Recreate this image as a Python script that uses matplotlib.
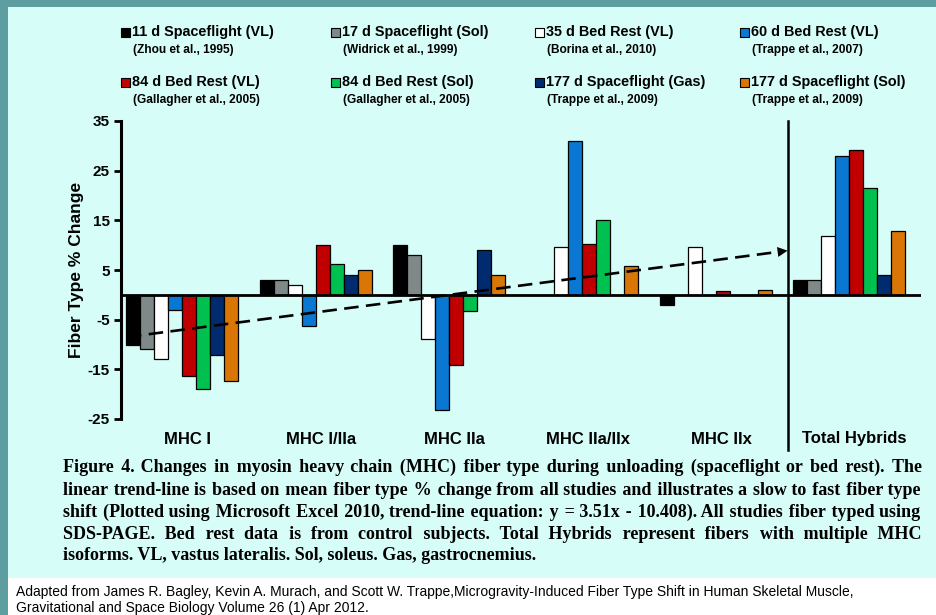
import numpy as np
import matplotlib
matplotlib.use("Agg")
import matplotlib.pyplot as plt
from matplotlib.patches import Rectangle

plt.rcParams["axes.unicode_minus"] = False

categories = ["MHC I", "MHC I/IIa", "MHC IIa", "MHC IIa/IIx", "MHC IIx", "Total Hybrids"]

studies = ["11 d Spaceflight (VL)", "17 d Spaceflight (Sol)", "35 d Bed Rest (VL)", "60 d Bed Rest (VL)",
           "84 d Bed Rest (VL)", "84 d Bed Rest (Sol)", "177 d Spaceflight (Gas)", "177 d Spaceflight (Sol)"]
citations = ["(Zhou et al., 1995)", "(Widrick et al., 1999)", "(Borina et al., 2010)", "(Trappe et al., 2007)",
             "(Gallagher et al., 2005)", "(Gallagher et al., 2005)", "(Trappe et al., 2009)", "(Trappe et al., 2009)"]
colors = ["#000000", "#7f8a88", "#ffffff", "#0a78d2", "#c00000", "#00c04f", "#002b6e", "#d97606"]

# % change per study, one value per category
sf11_vl = [-10, 3, 10, 0, -2, 3]
sf17_sol = [-11, 3, 8, 0, 0, 3]
br35_vl = [-13, 2, -8.8, 9.7, 9.6, 11.8]
br60_vl = [-3, -6.2, -23.2, 31, 0, 28]
br84_vl = [-16.3, 10.1, -14.2, 10.2, 0.7, 29.1]
br84_sol = [-19, 6.3, -3.3, 15, 0, 21.5]
sf177_gas = [-12.2, 4, 9, 0, 0, 4]
sf177_sol = [-17.3, 5, 4, 5.9, 0.9, 12.9]
series = [sf11_vl, sf17_sol, br35_vl, br60_vl, br84_vl, br84_sol, sf177_gas, sf177_sol]

# trend-line equation from the caption: y = 3.51x - 10.408
trend_slope = 3.51
trend_intercept = -10.408

caption_lines = [
    "Figure 4.  Changes in myosin heavy chain (MHC) fiber type during unloading (spaceflight or bed rest). The",
    "linear trend-line is based on mean fiber type % change from all studies and illustrates a slow to fast fiber type",
    "shift (Plotted using Microsoft Excel 2010, trend-line equation: y = 3.51x - 10.408). All studies fiber typed using",
    "SDS-PAGE. Bed rest data is from control subjects. Total Hybrids represent fibers with multiple MHC",
    "isoforms. VL, vastus lateralis. Sol, soleus. Gas, gastrocnemius.",
]
source_lines = [
    "Adapted from James R. Bagley, Kevin A. Murach, and Scott W. Trappe,Microgravity-Induced Fiber Type Shift in Human Skeletal Muscle,",
    "Gravitational and Space Biology Volume 26 (1) Apr 2012.",
]

W, H = 936, 615
fig = plt.figure(figsize=(W / 100, H / 100), dpi=100, facecolor="#5f9ea0")


def fx(px):
    return px / W


def fy(py):
    return 1 - py / H


# panel backgrounds
fig.patches.append(Rectangle((fx(8), fy(578)), fx(W - 8), fy(7) - fy(578),
                             transform=fig.transFigure, facecolor="#d6fdf8", edgecolor="none", zorder=-10))
fig.patches.append(Rectangle((fx(8), 0), fx(W - 8), fy(578),
                             transform=fig.transFigure, facecolor="white", edgecolor="none", zorder=-10))

ax = fig.add_axes([fx(121), fy(419), fx(800), fy(121) - fy(419)])
ax.set_facecolor("none")

x = np.arange(len(categories))
bw = 0.105
offset = -0.04
for i, vals in enumerate(series):
    ax.bar(x + offset + (i - 3.5) * bw, vals, width=bw, color=colors[i], edgecolor="black", linewidth=0.9, zorder=2)

ax.axhline(0, color="black", lw=2, zorder=3)
ax.plot([4.5, 4.5], [35, -31.2], color="black", lw=1.8, clip_on=False, zorder=3)

# trend line with arrow head
t0, t1 = -0.455, 4.49
tx = np.array([t0, t1 - 0.08])
ax.plot(tx, trend_slope * (tx + 1) + trend_intercept, color="black", lw=1.9,
        linestyle=(0, (5.5, 2.8)), zorder=4)
ax.annotate("", xy=(t1 + 0.03, trend_slope * (t1 + 1.03) + trend_intercept),
            xytext=(t1 - 0.12, trend_slope * (t1 + 0.88) + trend_intercept),
            arrowprops=dict(arrowstyle="-|>", color="black", lw=0, mutation_scale=18), zorder=4)

ax.set_xlim(-0.5, 5.5)
ax.set_ylim(-25, 35)
ax.set_yticks([-25, -15, -5, 5, 15, 25, 35])
ax.set_xticks(x)
ax.set_xticklabels(categories, fontsize=12, fontweight="bold", family="Liberation Sans")
ax.tick_params(axis="x", length=0, pad=9)
ax.tick_params(axis="y", direction="out", length=5, width=2, pad=3, labelsize=11)
for lab in ax.get_yticklabels():
    lab.set_fontweight("bold")
    lab.set_family("Liberation Sans")
for s in ["top", "right", "bottom"]:
    ax.spines[s].set_visible(False)
ax.spines["left"].set_linewidth(2.2)
ax.set_ylabel("Fiber Type % Change", fontsize=12.5, fontweight="bold", family="Liberation Sans")
ax.yaxis.set_label_coords(-0.046, 0.5)

# legend: 4 columns x 2 rows
col_x = [121, 331, 535, 740]
row_y = [32, 82]
for i, name in enumerate(studies):
    cx = col_x[i % 4]
    ry = row_y[i // 4]
    fig.patches.append(Rectangle((fx(cx), fy(ry + 4.5)), fx(8.5), fy(ry - 4) - fy(ry + 4.5),
                                 transform=fig.transFigure, facecolor=colors[i], edgecolor="black",
                                 linewidth=0.8, zorder=3))
    fig.text(fx(cx + 11), fy(ry), name, fontsize=10.4, fontweight="bold", family="Liberation Sans",
             ha="left", va="center")
    fig.text(fx(cx + 12), fy(ry + 18), citations[i], fontsize=8.6, fontweight="bold",
             family="Liberation Sans", ha="left", va="center")

# justified caption: one text per line, gaps widened with thin / hair spaces
cap_font = dict(fontsize=13, fontweight="bold", family=["Liberation Serif", "DejaVu Serif"])
fig.canvas.draw()
renderer = fig.canvas.get_renderer()


def text_w(s):
    t = fig.text(0, 0, s, **cap_font)
    w = t.get_window_extent(renderer).width
    t.remove()
    return w


aa = text_w("aa")
sp_w = {c: text_w("a" + c + "a") - aa for c in [" ", "\u2009", "\u200a"]}

left_px, right_px = 63, 922
line_base = [472, 495, 517, 539, 560]
for k, line in enumerate(caption_lines):
    words = line.split()
    if k == len(caption_lines) - 1:
        out = " ".join(words)
    else:
        word_w = [text_w(w) for w in words]
        gap = (right_px - left_px - sum(word_w)) / (len(words) - 1)
        out = words[0]
        carry = 0.0
        for w in words[1:]:
            need = gap + carry
            s = " "
            rem = need - sp_w[" "]
            n_thin = max(int(rem // sp_w["\u2009"]), 0)
            rem -= n_thin * sp_w["\u2009"]
            n_hair = max(int(round(rem / sp_w["\u200a"])), 0)
            rem -= n_hair * sp_w["\u200a"]
            s += "\u2009" * n_thin + "\u200a" * n_hair
            carry = rem
            out += s + w
    fig.text(fx(left_px), fy(line_base[k]), out, ha="left", va="baseline", **cap_font)

for k, line in enumerate(source_lines):
    fig.text(fx(16), fy(592 + 16 * k), line, fontsize=10, family="Liberation Sans", ha="left", va="center")

fig.savefig("out.png", dpi=100, facecolor=fig.get_facecolor())
